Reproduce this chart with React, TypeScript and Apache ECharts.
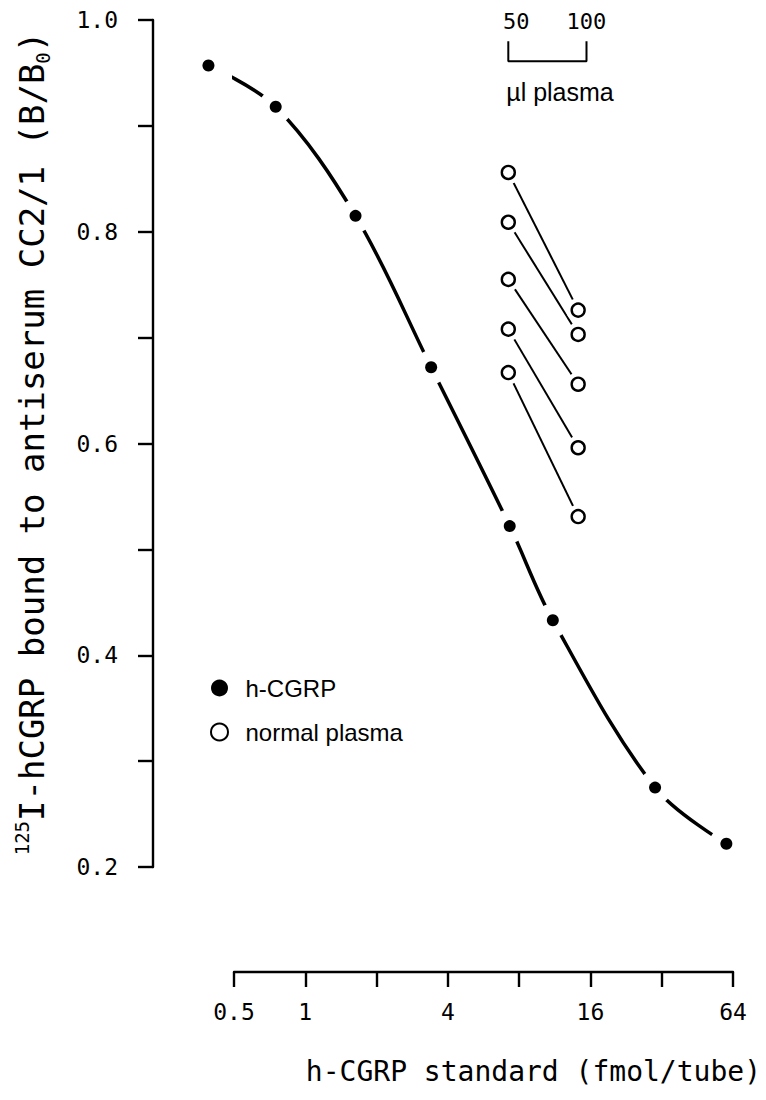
import React, { useEffect, useRef } from "react";
import * as echarts from "echarts";

// h-CGRP standard curve (fmol/tube vs B/B0)
const standardFmol = [0.39, 0.75, 1.63, 3.4, 7.3, 11.1, 30, 60];
const standardBound = [0.957, 0.918, 0.815, 0.672, 0.522, 0.433, 0.275, 0.222];

// normal plasma samples, 50 µl and 100 µl, placed on the standard axis
const plasmaVolumes = ["50", "100"];
const plasmaAxisX = [7.2, 14.2];
const plasma50ul = [0.856, 0.809, 0.755, 0.708, 0.667];
const plasma100ul = [0.726, 0.703, 0.656, 0.596, 0.531];

// µl plasma scale bracket
const bracketX = [7.2, 15.4];
const bracketY = [0.98, 0.961];

// labelled ticks
const xLabelValues = [0.5, 1, 4, 16, 64];
const yLabelValues = [0.2, 0.4, 0.6, 0.8, 1.0];

const MONO = '"DejaVu Sans Mono", monospace';
const SANS = '"Liberation Sans", Arial, sans-serif';
const INK = "#000";

const hasValue = (list: number[], v: number) =>
  list.some((l) => Math.abs(l - v) < 1e-6 * Math.max(1, l));

export default function App() {
  const ref = useRef<HTMLDivElement>(null);

  useEffect(() => {
    if (!ref.current) return;
    const chart = echarts.init(ref.current, null, { renderer: "svg" });

    const standardPoints = standardFmol.map((x, i) => [x, standardBound[i]]);
    const plasmaPoints = [
      ...plasma50ul.map((y) => [plasmaAxisX[0], y]),
      ...plasma100ul.map((y) => [plasmaAxisX[1], y]),
    ];

    const plasmaLines = plasma50ul.map((y, i) => ({
      type: "line",
      name: "pair" + i,
      data: [
        [plasmaAxisX[0], y],
        [plasmaAxisX[1], plasma100ul[i]],
      ],
      showSymbol: false,
      silent: true,
      clip: false,
      z: 2,
      lineStyle: { color: INK, width: 2 },
    }));

    const bracketLine = {
      type: "line",
      name: "bracket",
      data: [
        [bracketX[0], bracketY[0]],
        [bracketX[0], bracketY[1]],
        [bracketX[1], bracketY[1]],
        [bracketX[1], bracketY[0]],
      ],
      showSymbol: false,
      silent: true,
      clip: false,
      z: 2,
      lineStyle: { color: INK, width: 2 },
    };

    const bracketLabels = {
      type: "scatter",
      name: "bracket labels",
      data: [
        { value: [bracketX[0], bracketY[0]], label: { formatter: plasmaVolumes[0], offset: [8, 0] } },
        { value: [bracketX[1], bracketY[0]], label: { formatter: plasmaVolumes[1] } },
      ],
      symbolSize: 1,
      silent: true,
      clip: false,
      z: 2,
      itemStyle: { color: "rgba(255,255,255,0)", opacity: 1 },
      label: {
        show: true,
        position: "top",
        distance: 8,
        color: INK,
        opacity: 1,
        fontFamily: MONO,
        fontSize: 22,
      },
    };

    chart.setOption({
      animation: false,
      backgroundColor: "#fff",
      grid: {
        left: 234,
        right: 33,
        top: 20,
        bottom: 233,
        containLabel: false,
        outerBoundsMode: "none",
      },
      legend: {
        orient: "vertical",
        left: 205,
        top: 671,
        itemWidth: 42,
        itemHeight: 17,
        itemGap: 20,
        selectedMode: false,
        data: [
          { name: "h-CGRP", icon: "circle" },
          { name: "normal plasma", icon: "circle" },
        ],
        textStyle: { fontFamily: SANS, fontSize: 24, color: INK },
      },
      xAxis: {
        type: "log",
        logBase: 2,
        min: 0.5,
        max: 64,
        splitNumber: 7,
        offset: 105,
        axisLine: { lineStyle: { color: INK, width: 2.4 } },
        axisTick: { show: true, length: 15, lineStyle: { color: INK, width: 2.4 } },
        splitLine: { show: false },
        axisLabel: {
          showMinLabel: true,
          showMaxLabel: true,
          margin: 28,
          color: INK,
          fontFamily: MONO,
          fontSize: 23,
          formatter: (v: number) => (hasValue(xLabelValues, v) ? String(v) : ""),
        },
      },
      yAxis: {
        type: "value",
        min: 0.2,
        max: 1.0,
        interval: 0.1,
        offset: 81,
        axisLine: { show: true, lineStyle: { color: INK, width: 2.4 } },
        axisTick: { show: true, length: 15, lineStyle: { color: INK, width: 2.4 } },
        splitLine: { show: false },
        axisLabel: {
          showMinLabel: true,
          showMaxLabel: true,
          margin: 35,
          color: INK,
          fontFamily: MONO,
          fontSize: 23,
          formatter: (v: number) => (hasValue(yLabelValues, v) ? v.toFixed(1) : ""),
        },
        name: "{sup|125}{n|I-hCGRP bound to antiserum CC2/1 (B/B}{sub|0}{n|)}",
        nameLocation: "middle",
        nameGap: 101,
        nameTextStyle: {
          color: INK,
          rich: {
            n: { fontFamily: MONO, fontSize: 34, lineHeight: 40, color: INK },
            sup: {
              fontFamily: MONO,
              fontSize: 19,
              lineHeight: 20,
              verticalAlign: "top",
              color: INK,
            },
            sub: {
              fontFamily: MONO,
              fontSize: 19,
              lineHeight: 20,
              verticalAlign: "bottom",
              color: INK,
            },
          },
        },
      },
      graphic: [
        {
          type: "text",
          x: 560,
          y: 92,
          style: {
            text: "µl plasma",
            font: '25px "Liberation Sans", Arial, sans-serif',
            fill: INK,
            align: "center",
            verticalAlign: "middle",
            textAlign: "center",
            textVerticalAlign: "middle",
          },
        },
        {
          type: "text",
          x: 761,
          y: 1071,
          style: {
            text: "h-CGRP standard (fmol/tube)",
            font: '28px "DejaVu Sans Mono", monospace',
            fill: INK,
            align: "right",
            verticalAlign: "middle",
            textAlign: "right",
            textVerticalAlign: "middle",
          },
        },
      ],
      series: [
        {
          type: "line",
          name: "standard curve",
          data: standardPoints,
          smooth: 0.35,
          showSymbol: false,
          silent: true,
          clip: false,
          z: 2,
          lineStyle: { color: INK, width: 3.5 },
        },
        {
          type: "scatter",
          name: "standard gap",
          data: standardPoints,
          symbolSize: 34,
          silent: true,
          clip: false,
          z: 3,
          itemStyle: { color: "#fff", opacity: 1 },
        },
        {
          type: "scatter",
          name: "h-CGRP",
          data: standardPoints,
          symbol: "circle",
          symbolSize: 12,
          clip: false,
          z: 4,
          itemStyle: { color: INK, opacity: 1 },
        },
        ...plasmaLines,
        {
          type: "scatter",
          name: "plasma gap",
          data: plasmaPoints,
          symbolSize: 24,
          silent: true,
          clip: false,
          z: 3,
          itemStyle: { color: "#fff", opacity: 1 },
        },
        {
          type: "scatter",
          name: "normal plasma",
          data: plasmaPoints,
          symbol: "circle",
          symbolSize: 13,
          clip: false,
          z: 4,
          itemStyle: { color: "#fff", borderColor: INK, borderWidth: 2.4, opacity: 1 },
        },
        bracketLine,
        bracketLabels,
      ],
    });

    return () => chart.dispose();
  }, []);

  return (
    <div
      ref={ref}
      style={{ position: "absolute", left: 0, top: 0, width: 766, height: 1100 }}
    />
  );
}
